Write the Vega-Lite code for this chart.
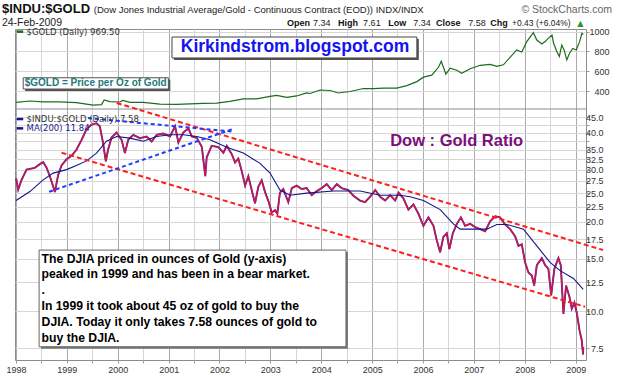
{
  "$schema": "https://vega.github.io/schema/vega-lite/v6.json",
  "width": 571,
  "height": 331,
  "autosize": {"type": "none"},
  "padding": {"left": 15, "top": 29, "right": 39, "bottom": 16},
  "background": "#ffffff",
  "config": {
    "view": {"stroke": "#8c8c8c", "strokeWidth": 1},
    "font": "Liberation Sans",
    "axis": {"domain": false, "labelFont": "Liberation Sans", "labelFontSize": 9, "labelColor": "#333333", "tickColor": "#999999", "tickSize": 3, "gridColor": "#d6d6d6"}
  },
  "datasets": {
    "gold": [
      {"date": "1998-01-02", "value": 285}, {"date": "1998-04-11", "value": 299}, {"date": "1998-07-15", "value": 290},
      {"date": "1998-11-12", "value": 290}, {"date": "1999-03-11", "value": 283}, {"date": "1999-07-09", "value": 258},
      {"date": "1999-09-07", "value": 262}, {"date": "1999-09-26", "value": 309}, {"date": "1999-11-06", "value": 292},
      {"date": "2000-01-17", "value": 289}, {"date": "2000-02-07", "value": 305}, {"date": "2000-03-29", "value": 285},
      {"date": "2000-07-03", "value": 285}, {"date": "2000-10-30", "value": 268}, {"date": "2001-02-27", "value": 265},
      {"date": "2001-06-03", "value": 270}, {"date": "2001-09-07", "value": 275}, {"date": "2001-12-12", "value": 278},
      {"date": "2002-03-17", "value": 295}, {"date": "2002-06-21", "value": 320}, {"date": "2002-09-25", "value": 320},
      {"date": "2002-12-30", "value": 345}, {"date": "2003-02-15", "value": 355}, {"date": "2003-04-29", "value": 335},
      {"date": "2003-07-09", "value": 350}, {"date": "2003-09-19", "value": 380}, {"date": "2003-10-13", "value": 375},
      {"date": "2003-12-24", "value": 410}, {"date": "2004-03-05", "value": 405}, {"date": "2004-05-03", "value": 380},
      {"date": "2004-07-26", "value": 395}, {"date": "2004-10-30", "value": 425}, {"date": "2005-01-10", "value": 425},
      {"date": "2005-03-23", "value": 430}, {"date": "2005-06-27", "value": 430}, {"date": "2005-09-07", "value": 455},
      {"date": "2005-11-18", "value": 495}, {"date": "2006-01-04", "value": 540}, {"date": "2006-03-05", "value": 560},
      {"date": "2006-04-22", "value": 640}, {"date": "2006-05-12", "value": 700}, {"date": "2006-05-25", "value": 650},
      {"date": "2006-06-14", "value": 570}, {"date": "2006-07-15", "value": 630}, {"date": "2006-09-01", "value": 610},
      {"date": "2006-10-06", "value": 580}, {"date": "2006-12-05", "value": 625}, {"date": "2007-02-15", "value": 660},
      {"date": "2007-04-28", "value": 670}, {"date": "2007-06-15", "value": 650}, {"date": "2007-08-01", "value": 665},
      {"date": "2007-09-18", "value": 740}, {"date": "2007-11-05", "value": 815}, {"date": "2007-12-11", "value": 795},
      {"date": "2008-01-16", "value": 900}, {"date": "2008-03-03", "value": 990}, {"date": "2008-03-28", "value": 915},
      {"date": "2008-05-03", "value": 875}, {"date": "2008-05-27", "value": 900}, {"date": "2008-06-19", "value": 935},
      {"date": "2008-07-15", "value": 965}, {"date": "2008-07-26", "value": 885}, {"date": "2008-08-18", "value": 800},
      {"date": "2008-09-06", "value": 750}, {"date": "2008-09-23", "value": 865}, {"date": "2008-10-10", "value": 815},
      {"date": "2008-10-29", "value": 715}, {"date": "2008-11-17", "value": 780}, {"date": "2008-12-11", "value": 830},
      {"date": "2009-01-05", "value": 815}, {"date": "2009-01-29", "value": 899}, {"date": "2009-02-15", "value": 984},
      {"date": "2009-02-24", "value": 969.5}
    ],
    "ratio": [
      {"date": "1998-01-02", "value": 28.0}, {"date": "1998-01-17", "value": 25.7}, {"date": "1998-02-10", "value": 27.7},
      {"date": "1998-03-18", "value": 30.0}, {"date": "1998-05-16", "value": 30.4}, {"date": "1998-06-21", "value": 31.3},
      {"date": "1998-07-15", "value": 31.8}, {"date": "1998-08-08", "value": 30.5}, {"date": "1998-09-01", "value": 28.5},
      {"date": "1998-09-25", "value": 26.3}, {"date": "1998-10-07", "value": 25.2}, {"date": "1998-10-31", "value": 28.8},
      {"date": "1998-11-24", "value": 31.0}, {"date": "1998-12-30", "value": 32.5}, {"date": "1999-02-04", "value": 33.4},
      {"date": "1999-03-11", "value": 35.0}, {"date": "1999-04-17", "value": 37.8}, {"date": "1999-05-22", "value": 41.0},
      {"date": "1999-06-27", "value": 42.5}, {"date": "1999-08-02", "value": 43.0}, {"date": "1999-08-26", "value": 42.0},
      {"date": "1999-09-18", "value": 36.9}, {"date": "1999-10-08", "value": 32.0}, {"date": "1999-10-24", "value": 35.0},
      {"date": "1999-11-18", "value": 38.5}, {"date": "1999-12-24", "value": 40.0}, {"date": "2000-01-29", "value": 37.8},
      {"date": "2000-02-22", "value": 34.1}, {"date": "2000-03-17", "value": 37.8}, {"date": "2000-04-22", "value": 39.3},
      {"date": "2000-06-09", "value": 38.3}, {"date": "2000-07-27", "value": 38.8}, {"date": "2000-09-01", "value": 37.3},
      {"date": "2000-10-07", "value": 39.3}, {"date": "2000-11-23", "value": 39.7}, {"date": "2001-01-11", "value": 38.8},
      {"date": "2001-02-16", "value": 42.0}, {"date": "2001-03-12", "value": 37.0}, {"date": "2001-04-16", "value": 40.0},
      {"date": "2001-05-23", "value": 41.3}, {"date": "2001-06-16", "value": 38.8}, {"date": "2001-07-22", "value": 38.4},
      {"date": "2001-08-27", "value": 35.8}, {"date": "2001-09-21", "value": 28.5}, {"date": "2001-10-01", "value": 33.0},
      {"date": "2001-11-06", "value": 36.1}, {"date": "2001-12-24", "value": 35.7}, {"date": "2002-01-29", "value": 34.2},
      {"date": "2002-02-22", "value": 36.1}, {"date": "2002-03-30", "value": 33.8}, {"date": "2002-04-23", "value": 31.7},
      {"date": "2002-05-16", "value": 32.7}, {"date": "2002-06-10", "value": 29.6}, {"date": "2002-07-04", "value": 26.5},
      {"date": "2002-07-27", "value": 28.5}, {"date": "2002-08-20", "value": 25.6}, {"date": "2002-09-13", "value": 23.1},
      {"date": "2002-10-07", "value": 26.3}, {"date": "2002-10-31", "value": 27.6}, {"date": "2002-11-24", "value": 25.2},
      {"date": "2002-12-18", "value": 23.5}, {"date": "2003-01-11", "value": 21.5}, {"date": "2003-02-04", "value": 21.9},
      {"date": "2003-02-20", "value": 21.3}, {"date": "2003-03-11", "value": 25.1}, {"date": "2003-04-04", "value": 25.8},
      {"date": "2003-05-10", "value": 23.3}, {"date": "2003-06-04", "value": 26.0}, {"date": "2003-07-09", "value": 26.5},
      {"date": "2003-08-14", "value": 25.8}, {"date": "2003-09-19", "value": 26.0}, {"date": "2003-10-25", "value": 24.6},
      {"date": "2003-11-30", "value": 25.4}, {"date": "2004-01-05", "value": 26.0}, {"date": "2004-02-10", "value": 26.8},
      {"date": "2004-03-17", "value": 25.6}, {"date": "2004-04-22", "value": 26.8}, {"date": "2004-05-27", "value": 26.0},
      {"date": "2004-07-14", "value": 25.6}, {"date": "2004-08-19", "value": 24.5}, {"date": "2004-10-06", "value": 23.6},
      {"date": "2004-11-11", "value": 23.3}, {"date": "2004-12-16", "value": 24.3}, {"date": "2005-01-23", "value": 25.6},
      {"date": "2005-02-27", "value": 24.3}, {"date": "2005-04-04", "value": 23.6}, {"date": "2005-05-10", "value": 24.6},
      {"date": "2005-06-15", "value": 23.6}, {"date": "2005-07-09", "value": 25.1}, {"date": "2005-08-13", "value": 24.0},
      {"date": "2005-09-18", "value": 22.0}, {"date": "2005-10-24", "value": 22.9}, {"date": "2005-11-29", "value": 21.3},
      {"date": "2006-01-04", "value": 19.4}, {"date": "2006-02-09", "value": 20.7}, {"date": "2006-03-17", "value": 19.4},
      {"date": "2006-04-10", "value": 17.3}, {"date": "2006-05-04", "value": 15.8}, {"date": "2006-05-27", "value": 17.8},
      {"date": "2006-06-21", "value": 18.3}, {"date": "2006-07-09", "value": 16.2}, {"date": "2006-08-03", "value": 18.3},
      {"date": "2006-09-01", "value": 19.7}, {"date": "2006-09-30", "value": 20.7}, {"date": "2006-10-30", "value": 19.4},
      {"date": "2006-12-05", "value": 19.7}, {"date": "2007-01-10", "value": 19.2}, {"date": "2007-02-15", "value": 18.9},
      {"date": "2007-03-23", "value": 18.6}, {"date": "2007-04-28", "value": 20.1}, {"date": "2007-06-03", "value": 20.9},
      {"date": "2007-07-08", "value": 20.7}, {"date": "2007-08-13", "value": 19.6}, {"date": "2007-09-18", "value": 18.9},
      {"date": "2007-10-24", "value": 17.9}, {"date": "2007-11-17", "value": 16.6}, {"date": "2007-12-11", "value": 16.8},
      {"date": "2008-01-04", "value": 14.6}, {"date": "2008-01-28", "value": 13.5}, {"date": "2008-02-21", "value": 13.2},
      {"date": "2008-03-09", "value": 12.2}, {"date": "2008-03-28", "value": 14.3}, {"date": "2008-05-03", "value": 15.1},
      {"date": "2008-05-27", "value": 14.3}, {"date": "2008-06-19", "value": 13.9}, {"date": "2008-07-09", "value": 11.3},
      {"date": "2008-08-01", "value": 13.9}, {"date": "2008-08-30", "value": 15.1}, {"date": "2008-09-16", "value": 14.3},
      {"date": "2008-10-05", "value": 9.8}, {"date": "2008-10-24", "value": 12.2}, {"date": "2008-11-17", "value": 11.2},
      {"date": "2008-12-04", "value": 10.2}, {"date": "2008-12-23", "value": 10.7}, {"date": "2009-01-10", "value": 9.8},
      {"date": "2009-01-29", "value": 8.6}, {"date": "2009-02-13", "value": 8.0}, {"date": "2009-02-20", "value": 7.4},
      {"date": "2009-02-23", "value": 7.15}, {"date": "2009-02-24", "value": 7.58}
    ],
    "ma": [
      {"date": "1998-01-02", "value": 23.6}, {"date": "1998-04-11", "value": 25.3}, {"date": "1998-07-15", "value": 27.7},
      {"date": "1998-09-25", "value": 29.2}, {"date": "1998-12-30", "value": 30.0}, {"date": "1999-03-11", "value": 31.0},
      {"date": "1999-05-22", "value": 32.1}, {"date": "1999-08-02", "value": 34.1}, {"date": "1999-10-13", "value": 37.4},
      {"date": "1999-12-24", "value": 38.8}, {"date": "2000-03-29", "value": 38.3}, {"date": "2000-07-03", "value": 37.4},
      {"date": "2000-10-07", "value": 38.8}, {"date": "2001-01-11", "value": 39.3}, {"date": "2001-04-16", "value": 39.3},
      {"date": "2001-07-22", "value": 38.8}, {"date": "2001-10-25", "value": 37.8}, {"date": "2002-02-22", "value": 35.7},
      {"date": "2002-06-21", "value": 34.1}, {"date": "2002-10-19", "value": 31.5}, {"date": "2002-12-30", "value": 29.2},
      {"date": "2003-03-11", "value": 25.6}, {"date": "2003-05-22", "value": 24.6}, {"date": "2003-09-19", "value": 25.0},
      {"date": "2004-03-28", "value": 25.4}, {"date": "2004-10-06", "value": 25.4}, {"date": "2005-02-27", "value": 24.6},
      {"date": "2005-07-21", "value": 24.6}, {"date": "2005-09-30", "value": 24.3}, {"date": "2006-01-04", "value": 23.6},
      {"date": "2006-05-04", "value": 22.0}, {"date": "2006-08-07", "value": 19.7}, {"date": "2006-09-25", "value": 18.9},
      {"date": "2006-12-29", "value": 18.9}, {"date": "2007-04-04", "value": 18.9}, {"date": "2007-06-15", "value": 19.6},
      {"date": "2007-08-26", "value": 19.6}, {"date": "2007-12-23", "value": 18.9}, {"date": "2008-03-28", "value": 16.6},
      {"date": "2008-07-01", "value": 14.6}, {"date": "2008-09-11", "value": 13.7}, {"date": "2008-12-16", "value": 12.9},
      {"date": "2009-02-24", "value": 11.84}
    ],
    "trend": [
      {"line": "upper", "date": "1999-12-25", "value": 50.3}, {"line": "upper", "date": "2009-07-16", "value": 16.07},
      {"line": "lower", "date": "1998-11-24", "value": 34.2}, {"line": "lower", "date": "2009-03-09", "value": 10.36},
      {"line": "falling", "date": "1999-06-02", "value": 44.75}, {"line": "falling", "date": "2002-04-01", "value": 40.3},
      {"line": "rising", "date": "1998-08-27", "value": 25.27}, {"line": "rising", "date": "2002-04-01", "value": 41.0}
    ]
  },
  "layer": [
    {
      "layer": [
        {"data": {"name": "gold"}, "mark": {"type": "line", "color": "#1d6b1d", "strokeWidth": 1.2},
         "encoding": {
           "x": {
             "field": "date", "type": "temporal",
             "scale": {"domain": [{"year": 1997, "month": 12, "date": 25}, {"year": 2009, "month": 3, "date": 16}]},
             "axis": {
               "orient": "bottom", "title": null, "grid": true,
               "tickCount": {"interval": "month", "step": 6},
               "labelExpr": "month(datum.value) === 0 ? timeFormat(datum.value, '%Y') : ''",
               "gridColor": {"condition": {"test": "month(datum.value) === 0", "value": "#a9a9a9"}, "value": "#d6d6d6"},
               "labelFlush": false, "labelOverlap": false, "labelPadding": 2
             }
           },
           "y": {
             "field": "value", "type": "quantitative",
             "scale": {"domain": [-2320, 1027], "zero": false, "nice": false},
             "axis": {"orient": "right", "title": null, "grid": true, "values": [400, 600, 800, 1000], "format": "d", "labelAlign": "right", "labelPadding": 20}
           }
         }},
        {"data": {"values": [{}]}, "mark": {"type": "rule", "color": "#8c8c8c", "strokeWidth": 1},
         "encoding": {"y": {"datum": 218}}},
        {"data": {"values": [{}]}, "mark": {"type": "rect", "color": "#555555"},
         "encoding": {"x": {"datum": {"year": 2001, "month": 2, "date": 8}, "type": "temporal"}, "x2": {"datum": {"year": 2005, "month": 12, "date": 2}},
                      "y": {"datum": 926}, "y2": {"datum": 714}}},
        {"data": {"values": [{}]}, "mark": {"type": "rect", "fill": "#ffffff", "stroke": "#444444", "strokeWidth": 1},
         "encoding": {"x": {"datum": {"year": 2001, "month": 1, "date": 25}, "type": "temporal"}, "x2": {"datum": {"year": 2005, "month": 11, "date": 18}},
                      "y": {"datum": 946}, "y2": {"datum": 734}}},
        {"data": {"values": [{}]}, "mark": {"type": "text", "text": "Kirkindstrom.blogspot.com", "align": "center", "baseline": "middle", "fontSize": 17.5, "fontWeight": "bold", "color": "#1414f0"},
         "encoding": {"x": {"datum": {"year": 2003, "month": 6, "date": 27}, "type": "temporal"}, "y": {"datum": 840}}},
        {"data": {"values": [{}]}, "mark": {"type": "rect", "color": "#555555"},
         "encoding": {"x": {"datum": {"year": 1998, "month": 3, "date": 8}, "type": "temporal"}, "x2": {"datum": {"year": 2001, "month": 1, "date": 13}},
                      "y": {"datum": 514}, "y2": {"datum": 400}}},
        {"data": {"values": [{}]}, "mark": {"type": "rect", "fill": "#ffffff", "stroke": "#555555", "strokeWidth": 1},
         "encoding": {"x": {"datum": {"year": 1998, "month": 2, "date": 22}, "type": "temporal"}, "x2": {"datum": {"year": 2000, "month": 12, "date": 30}},
                      "y": {"datum": 534}, "y2": {"datum": 420}}},
        {"data": {"values": [{}]}, "mark": {"type": "text", "text": "$GOLD = Price per Oz of Gold", "align": "center", "baseline": "middle", "fontSize": 10, "fontWeight": "bold", "color": "#1e7878"},
         "encoding": {"x": {"datum": {"year": 1999, "month": 7, "date": 27}, "type": "temporal"}, "y": {"datum": 478}}},
        {"data": {"values": [{}]}, "mark": {"type": "rule", "color": "#1d6b1d", "strokeWidth": 2.5},
         "encoding": {"x": {"datum": {"year": 1998, "month": 1, "date": 6}, "type": "temporal"}, "x2": {"datum": {"year": 1998, "month": 2, "date": 22}}, "y": {"datum": 1000}}},
        {"data": {"values": [{}]}, "mark": {"type": "text", "text": "$GOLD (Daily) 969.50", "align": "left", "baseline": "middle", "font": "DejaVu Sans", "fontSize": 8.5, "color": "#333333"},
         "encoding": {"x": {"datum": {"year": 1998, "month": 3, "date": 18}, "type": "temporal"}, "y": {"datum": 1000}}},
        {"data": {"values": [{}]}, "mark": {"type": "text", "text": "$INDU:$GOLD", "align": "left", "baseline": "alphabetic", "fontSize": 13, "fontWeight": "bold", "color": "#111111"},
         "encoding": {"x": {"datum": {"year": 1997, "month": 9, "date": 22}, "type": "temporal"}, "y": {"datum": 1189}}},
        {"data": {"values": [{}]}, "mark": {"type": "text", "text": "(Dow Jones Industrial Average/Gold - Continuous Contract (EOD))  INDX/INDX", "align": "left", "baseline": "alphabetic", "fontSize": 9.5, "color": "#222222"},
         "encoding": {"x": {"datum": {"year": 1999, "month": 7, "date": 14}, "type": "temporal"}, "y": {"datum": 1189}}},
        {"data": {"values": [{}]}, "mark": {"type": "text", "text": "© StockCharts.com", "align": "right", "baseline": "alphabetic", "fontSize": 10.5, "color": "#666666"},
         "encoding": {"x": {"datum": {"year": 2009, "month": 9, "date": 19}, "type": "temporal"}, "y": {"datum": 1189}}},
        {"data": {"values": [{}]}, "mark": {"type": "text", "text": "24-Feb-2009", "align": "left", "baseline": "alphabetic", "fontSize": 10.5, "color": "#222222"},
         "encoding": {"x": {"datum": {"year": 1997, "month": 9, "date": 22}, "type": "temporal"}, "y": {"datum": 1062}}},
        {"data": {"values": [{}]}, "mark": {"type": "text", "text": "Open", "align": "left", "baseline": "alphabetic", "fontSize": 9, "fontWeight": "bold", "color": "#111111"},
         "encoding": {"x": {"datum": {"year": 2003, "month": 5, "date": 1}, "type": "temporal"}, "y": {"datum": 1062}}},
        {"data": {"values": [{}]}, "mark": {"type": "text", "text": "7.34", "align": "left", "baseline": "alphabetic", "fontSize": 9, "color": "#222222"},
         "encoding": {"x": {"datum": {"year": 2003, "month": 11, "date": 3}, "type": "temporal"}, "y": {"datum": 1062}}},
        {"data": {"values": [{}]}, "mark": {"type": "text", "text": "High", "align": "left", "baseline": "alphabetic", "fontSize": 9, "fontWeight": "bold", "color": "#111111"},
         "encoding": {"x": {"datum": {"year": 2004, "month": 5, "date": 1}, "type": "temporal"}, "y": {"datum": 1062}}},
        {"data": {"values": [{}]}, "mark": {"type": "text", "text": "7.61", "align": "left", "baseline": "alphabetic", "fontSize": 9, "color": "#222222"},
         "encoding": {"x": {"datum": {"year": 2004, "month": 10, "date": 28}, "type": "temporal"}, "y": {"datum": 1062}}},
        {"data": {"values": [{}]}, "mark": {"type": "text", "text": "Low", "align": "left", "baseline": "alphabetic", "fontSize": 9, "fontWeight": "bold", "color": "#111111"},
         "encoding": {"x": {"datum": {"year": 2005, "month": 4, "date": 26}, "type": "temporal"}, "y": {"datum": 1062}}},
        {"data": {"values": [{}]}, "mark": {"type": "text", "text": "7.34", "align": "left", "baseline": "alphabetic", "fontSize": 9, "color": "#222222"},
         "encoding": {"x": {"datum": {"year": 2005, "month": 10, "date": 22}, "type": "temporal"}, "y": {"datum": 1062}}},
        {"data": {"values": [{}]}, "mark": {"type": "text", "text": "Close", "align": "left", "baseline": "alphabetic", "fontSize": 9, "fontWeight": "bold", "color": "#111111"},
         "encoding": {"x": {"datum": {"year": 2006, "month": 4, "date": 5}, "type": "temporal"}, "y": {"datum": 1062}}},
        {"data": {"values": [{}]}, "mark": {"type": "text", "text": "7.58", "align": "left", "baseline": "alphabetic", "fontSize": 9, "color": "#222222"},
         "encoding": {"x": {"datum": {"year": 2006, "month": 11, "date": 21}, "type": "temporal"}, "y": {"datum": 1062}}},
        {"data": {"values": [{}]}, "mark": {"type": "text", "text": "Chg", "align": "left", "baseline": "alphabetic", "fontSize": 9, "fontWeight": "bold", "color": "#111111"},
         "encoding": {"x": {"datum": {"year": 2007, "month": 4, "date": 28}, "type": "temporal"}, "y": {"datum": 1062}}},
        {"data": {"values": [{}]}, "mark": {"type": "text", "text": "+0.43 (+6.04%)", "align": "left", "baseline": "alphabetic", "fontSize": 8.5, "color": "#222222"},
         "encoding": {"x": {"datum": {"year": 2007, "month": 10, "date": 2}, "type": "temporal"}, "y": {"datum": 1062}}},
        {"data": {"values": [{}]}, "mark": {"type": "text", "text": "▲", "align": "center", "baseline": "alphabetic", "font": "DejaVu Sans", "fontSize": 8, "color": "#2a9a2a"},
         "encoding": {"x": {"datum": {"year": 2009, "month": 2, "date": 3}, "type": "temporal"}, "y": {"datum": 1062}}}
      ]
    },
    {
      "layer": [
        {"data": {"values": [{}]}, "mark": {"type": "rect", "color": "#777777"},
         "encoding": {"x": {"datum": {"year": 1998, "month": 6, "date": 30}, "type": "temporal"}, "x2": {"datum": {"year": 2004, "month": 7, "date": 11}},
                      "y": {"datum": 15.82}, "y2": {"datum": 7.47}}},
        {"data": {"values": [{}]}, "mark": {"type": "rect", "fill": "#ffffff", "stroke": "#666666", "strokeWidth": 1},
         "encoding": {"x": {"datum": {"year": 1998, "month": 6, "date": 16}, "type": "temporal"}, "x2": {"datum": {"year": 2004, "month": 6, "date": 27}},
                      "y": {"datum": 16.07}, "y2": {"datum": 7.59}}},
        {"data": {"values": [{}]}, "mark": {"type": "text", "text": "The DJIA priced in ounces of Gold (y-axis)\npeaked in 1999 and has been in a bear market.\n.\nIn 1999 it took about 45 oz of gold to buy the\nDJIA.  Today it only takes 7.58 ounces of gold to\nbuy the DJIA.", "lineBreak": "\n", "lineHeight": 15.8, "align": "left", "baseline": "alphabetic", "fontSize": 12.2, "fontWeight": "bold", "color": "#000000"},
         "encoding": {"x": {"datum": {"year": 1998, "month": 7, "date": 4}, "type": "temporal"}, "y": {"datum": 14.59}}},
        {
          "encoding": {
            "x": {
              "field": "date", "type": "temporal",
              "scale": {"domain": [{"year": 1997, "month": 12, "date": 25}, {"year": 2009, "month": 3, "date": 16}]},
              "axis": {
                "orient": "bottom", "title": null, "grid": true,
                "tickCount": {"interval": "month", "step": 6},
                "labelExpr": "month(datum.value) === 0 ? timeFormat(datum.value, '%Y') : ''",
                "gridColor": {"condition": {"test": "month(datum.value) === 0", "value": "#a9a9a9"}, "value": "#d6d6d6"},
                "labelFlush": false, "labelOverlap": false, "labelPadding": 2
              }
            },
            "y": {
              "field": "value", "type": "quantitative",
              "scale": {"type": "log", "domain": [6.85, 89.3], "nice": false},
              "axis": {"orient": "right", "title": null, "grid": true, "values": [7.5, 10, 12.5, 15, 17.5, 20, 22.5, 25, 27.5, 30, 32.5, 35, 37.5, 40, 42.5, 45], "format": ".1f", "labelAlign": "right", "labelPadding": 14}
            }
          },
          "layer": [
            {"data": {"name": "ratio"}, "mark": {"type": "line", "color": "#2a36c8", "strokeWidth": 1.9}},
            {"data": {"name": "ratio"}, "mark": {"type": "line", "color": "#d8143c", "strokeWidth": 1.4}},
            {"data": {"name": "ma"}, "mark": {"type": "line", "color": "#14148c", "strokeWidth": 1.1}},
            {"data": {"name": "trend"}, "transform": [{"filter": "datum.line === 'upper' || datum.line === 'lower'"}],
             "mark": {"type": "line", "color": "#ff1e1e", "strokeWidth": 2, "strokeDash": [5, 3]},
             "encoding": {"detail": {"field": "line", "type": "nominal"}}},
            {"data": {"name": "trend"}, "transform": [{"filter": "datum.line === 'falling' || datum.line === 'rising'"}],
             "mark": {"type": "line", "color": "#1e3cff", "strokeWidth": 2, "strokeDash": [4, 3]},
             "encoding": {"detail": {"field": "line", "type": "nominal"}}}
          ]
        },
        {"data": {"values": [{}]}, "mark": {"type": "rule", "color": "#14148c", "strokeWidth": 2.5},
         "encoding": {"x": {"datum": {"year": 1998, "month": 1, "date": 6}, "type": "temporal"}, "x2": {"datum": {"year": 1998, "month": 2, "date": 22}}, "y": {"datum": 44.41}}},
        {"data": {"values": [{}]}, "mark": {"type": "text", "text": "$INDU:$GOLD (Daily) 7.58", "align": "left", "baseline": "middle", "font": "DejaVu Sans", "fontSize": 8.5, "color": "#333333"},
         "encoding": {"x": {"datum": {"year": 1998, "month": 3, "date": 18}, "type": "temporal"}, "y": {"datum": 44.41}}},
        {"data": {"values": [{}]}, "mark": {"type": "rule", "color": "#14148c", "strokeWidth": 2.5},
         "encoding": {"x": {"datum": {"year": 1998, "month": 1, "date": 6}, "type": "temporal"}, "x2": {"datum": {"year": 1998, "month": 2, "date": 22}}, "y": {"datum": 41.32}}},
        {"data": {"values": [{}]}, "mark": {"type": "text", "text": "MA(200) 11.84", "align": "left", "baseline": "middle", "font": "DejaVu Sans", "fontSize": 8.5, "color": "#1a1a8c"},
         "encoding": {"x": {"datum": {"year": 1998, "month": 3, "date": 18}, "type": "temporal"}, "y": {"datum": 41.32}}},
        {"data": {"values": [{}]}, "mark": {"type": "text", "text": "Dow : Gold Ratio", "align": "left", "baseline": "middle", "fontSize": 16.5, "fontWeight": "bold", "color": "#7b0f7b"},
         "encoding": {"x": {"datum": {"year": 2005, "month": 5, "date": 10}, "type": "temporal"}, "y": {"datum": 37.5}}}
      ]
    }
  ],
  "resolve": {"scale": {"y": "independent"}, "axis": {"y": "independent"}}
}
